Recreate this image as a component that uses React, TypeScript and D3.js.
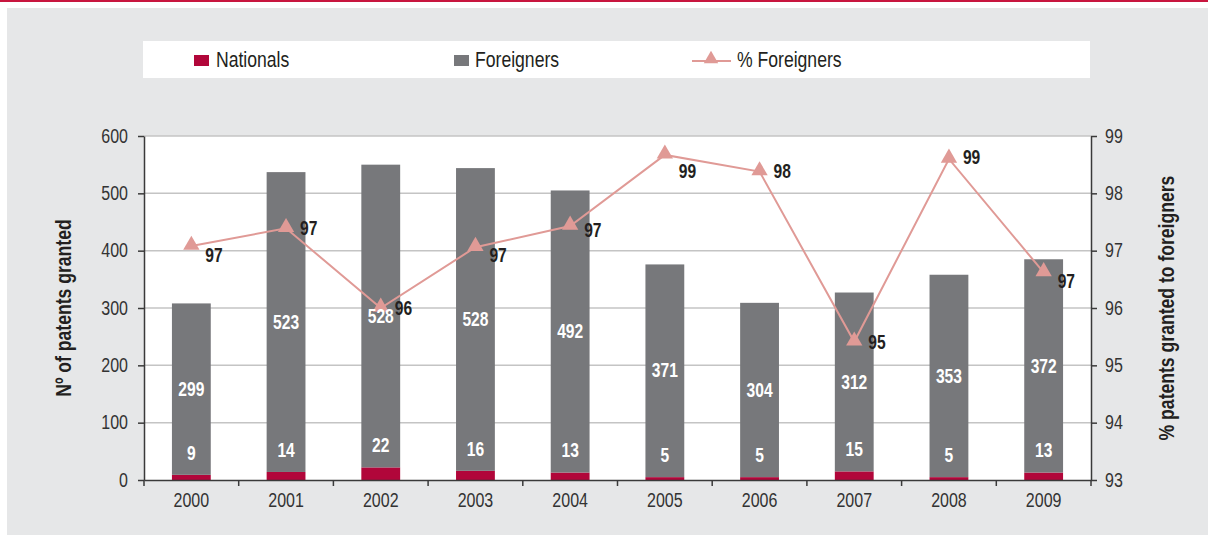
import { useEffect, useRef } from "react";
import * as d3 from "d3";

const years = ["2000", "2001", "2002", "2003", "2004", "2005", "2006", "2007", "2008", "2009"];
const nationals = [9, 14, 22, 16, 13, 5, 5, 15, 5, 13];
const foreigners = [299, 523, 528, 528, 492, 371, 304, 312, 353, 372];
const pctForeigners = [97.08, 97.39, 96.0, 97.06, 97.43, 98.67, 98.38, 95.41, 98.6, 96.62];
const pctLabels = ["97", "97", "96", "97", "97", "99", "98", "95", "99", "97"];
// small manual nudges of the % labels, as in the original
const pctLabelNudge = [9, 0, 0, 8, 4, 16, 0, 0, -2, 9];
const leftTicks = [0, 100, 200, 300, 400, 500, 600];
const rightTicks = [93, 94, 95, 96, 97, 98, 99];

const FONT = "'Liberation Sans', Arial, sans-serif";
const RED = "#b1063a";
const GREY = "#77787b";
const PINK = "#e09a96";
const INK = "#231f20";

// condensed text: Liberation Sans squeezed horizontally (like Arial Narrow)
const ntext = (parent: any, x: number, y: number, str: string, o: any = {}) => {
    const sx = o.sx ?? 0.8;
    const rot = o.rotate ? ` rotate(${o.rotate})` : "";
    return parent.append("text")
        .attr("transform", `translate(${x},${y})${rot} scale(${sx},1)`)
        .attr("font-family", FONT)
        .attr("font-size", o.size ?? 20)
        .attr("font-weight", o.bold ? "bold" : "normal")
        .attr("fill", o.fill ?? INK)
        .attr("text-anchor", o.anchor ?? "start")
        .attr("dominant-baseline", o.baseline ?? "auto")
        .text(str);
};

const App = () => {
    const ref = useRef<SVGSVGElement | null>(null);

    useEffect(() => {
        const W = 1208, H = 535;
        const margin = { top: 136, right: 117, bottom: 55, left: 144 };
        const width = W - margin.left - margin.right;
        const height = H - margin.top - margin.bottom;

        const svg = d3.select(ref.current);
        svg.selectAll("*").remove();

        // background
        svg.append("rect").attr("x", 7).attr("y", 8).attr("width", W - 7).attr("height", H - 8).attr("fill", "#e6e7e8");
        svg.append("rect").attr("x", 0).attr("y", 0).attr("width", W).attr("height", 2).attr("fill", "#c8163f");

        // legend box
        const lg = svg.append("g");
        lg.append("rect").attr("x", 143).attr("y", 41).attr("width", 947).attr("height", 37).attr("fill", "#fff");
        lg.append("rect").attr("x", 194).attr("y", 55).attr("width", 15).attr("height", 11).attr("fill", RED);
        ntext(lg, 216, 67, "Nationals", { size: 22 });
        lg.append("rect").attr("x", 454).attr("y", 55).attr("width", 15).attr("height", 11).attr("fill", GREY);
        ntext(lg, 475, 67, "Foreigners", { size: 22 });
        lg.append("line").attr("x1", 692).attr("x2", 731).attr("y1", 61).attr("y2", 61).attr("stroke", PINK).attr("stroke-width", 2);
        lg.append("path").attr("d", d3.symbol(d3.symbolTriangle, 90)()).attr("transform", "translate(711,59)").attr("fill", PINK);
        ntext(lg, 737, 67, "% Foreigners", { size: 22 });

        const g = svg.append("g").attr("transform", `translate(${margin.left},${margin.top})`);
        g.append("rect").attr("width", width).attr("height", height).attr("fill", "#fff");

        const x = d3.scaleBand().domain(years).range([0, width]);
        const y = d3.scaleLinear().domain([0, 600]).range([height, 0]);
        const y2 = d3.scaleLinear().domain([93, 99]).range([height, 0]);
        const barW = x.bandwidth() * 0.41;
        const cx = (i: number) => x(years[i])! + x.bandwidth() / 2;

        // gridlines
        g.selectAll(".grid").data(leftTicks.slice(1)).join("line")
            .attr("x1", 0).attr("x2", width)
            .attr("y1", d => y(d)).attr("y2", d => y(d))
            .attr("stroke", "#c4c4c4").attr("stroke-width", 1.5);

        // bars
        g.selectAll(".nat").data(years).join("rect")
            .attr("x", d => x(d)! + (x.bandwidth() - barW) / 2)
            .attr("width", barW)
            .attr("y", (d, i) => y(nationals[i]))
            .attr("height", (d, i) => y(0) - y(nationals[i]))
            .attr("fill", RED);
        g.selectAll(".for").data(years).join("rect")
            .attr("x", d => x(d)! + (x.bandwidth() - barW) / 2)
            .attr("width", barW)
            .attr("y", (d, i) => y(nationals[i] + foreigners[i]))
            .attr("height", (d, i) => y(nationals[i]) - y(nationals[i] + foreigners[i]))
            .attr("fill", GREY);

        // % line
        const line = d3.line<number>().x((d, i) => cx(i)).y(d => y2(d));
        g.append("path").datum(pctForeigners).attr("d", line)
            .attr("fill", "none").attr("stroke", PINK).attr("stroke-width", 2);
        g.selectAll(".tri").data(pctForeigners).join("path")
            .attr("d", d3.symbol(d3.symbolTriangle, 115)())
            .attr("transform", (d, i) => `translate(${cx(i)},${y2(d) - 1})`)
            .attr("fill", PINK);

        // bar labels
        foreigners.forEach((d, i) => {
            ntext(g, cx(i), (y(nationals[i]) + y(nationals[i] + d)) / 2, String(d),
                { size: 20, bold: true, fill: "#fff", anchor: "middle", baseline: "central", sx: 0.78 });
        });
        nationals.forEach((d, i) => {
            ntext(g, cx(i), y(d) - 22, String(d),
                { size: 20, bold: true, fill: "#fff", anchor: "middle", baseline: "central", sx: 0.78 });
        });

        // % labels
        pctForeigners.forEach((d, i) => {
            ntext(g, cx(i) + 14, y2(d) + pctLabelNudge[i], pctLabels[i],
                { size: 20, bold: true, baseline: "central", sx: 0.78 });
        });

        // axes
        const AX = "#3a3a3a";
        const left = g.append("g").call(d3.axisLeft(y).tickValues(leftTicks).tickSize(6).tickSizeOuter(0).tickFormat(() => ""));
        const right = g.append("g").attr("transform", `translate(${width},0)`)
            .call(d3.axisRight(y2).tickValues(rightTicks).tickSize(6).tickSizeOuter(0).tickFormat(() => ""));
        const bottom = g.append("g").attr("transform", `translate(0,${height})`)
            .call(d3.axisBottom(x).tickSize(0).tickFormat(() => ""));
        [left, right, bottom].forEach(a => {
            a.select(".domain").attr("stroke", AX).attr("stroke-width", 1.5);
            a.selectAll(".tick line").attr("stroke", AX).attr("stroke-width", 1.5);
        });
        bottom.selectAll(".sep").data(d3.range(years.length + 1)).join("line")
            .attr("x1", i => i * x.step()).attr("x2", i => i * x.step())
            .attr("y1", 0).attr("y2", 6)
            .attr("stroke", AX).attr("stroke-width", 1.5);

        leftTicks.forEach(t => ntext(g, -16, y(t), String(t), { anchor: "end", baseline: "central", fill: "#333" }));
        rightTicks.forEach(t => ntext(g, width + 14, y2(t), d3.format("d")(t), { baseline: "central", fill: "#333" }));
        years.forEach((yr, i) => ntext(g, cx(i), height + 20, yr, { anchor: "middle", baseline: "central", fill: "#333" }));

        // axis titles
        ntext(svg, 63, margin.top + height / 2, "Nº of patents granted",
            { size: 22, bold: true, anchor: "middle", baseline: "central", rotate: -90, sx: 0.8 });
        ntext(svg, 1166, margin.top + height / 2, "% patents granted to foreigners",
            { size: 22, bold: true, anchor: "middle", baseline: "central", rotate: -90, sx: 0.8 });
    }, []);

    return (
        <div style={{ position: "absolute", left: 0, top: 0 }}>
            <svg ref={ref} width={1208} height={535} style={{ display: "block" }}></svg>
        </div>
    );
};

export default App;
